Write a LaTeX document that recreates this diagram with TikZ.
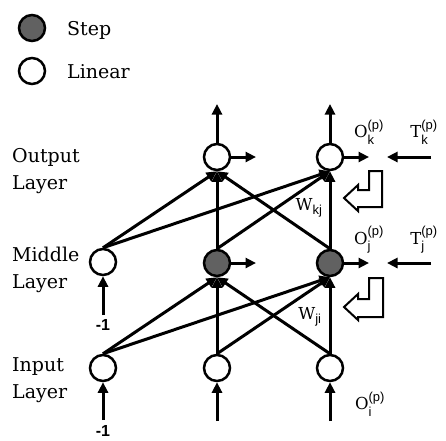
\documentclass[tikz,border=0pt]{standalone}
\usepackage{amsmath}
\usepackage{fontspec}
\setmainfont{DejaVu Serif}
\newfontfamily\biasfont{Liberation Sans}
\newcommand\subf{\biasfont\fontsize{13}{14}\selectfont}
\newcommand\symlab[3]{$\text{#1}_{\text{\subf #2}}^{\text{\subf #3}}$}
\usetikzlibrary{arrows.meta}
\begin{document}
\begin{tikzpicture}[x=1pt,y=-1pt,
  neuron/.style={circle,draw,line width=2.5pt,minimum size=26pt,inner sep=0pt},
  stepn/.style={neuron,fill=black!62},
  lin/.style={neuron,fill=white},
  conn/.style={line width=3pt,-{Triangle[length=10.5pt,width=10pt]}},
  hollow/.style={line width=2pt,draw,fill=white,line join=miter},
  lab/.style={font=\fontsize{19}{27}\selectfont,align=left,inner sep=0pt},
  sym/.style={font=\fontsize{16.5}{18}\selectfont,inner sep=0pt},
  biaslab/.style={font=\biasfont\bfseries\fontsize{16}{17}\selectfont,inner sep=0pt}]
\useasboundingbox (0,0) rectangle (446,440);

% legend
\node[stepn] (ls) at (32,28) {};
\node[lab,anchor=base west] (lst) at (67,35) {Step};
\node[lin] (ll) at (32,71) {};
\node[lab,anchor=base west] (llt) at (67,78) {Linear};

% layer labels
\node[lab,anchor=north west] (lout) at (12,148) {Output\\Layer};
\node[lab,anchor=north west] (lmid) at (12,247) {Middle\\Layer};
\node[lab,anchor=north west] (linp) at (12,357) {Input\\Layer};

% neurons
\node[lin] (o1) at (217,157) {};
\node[lin] (o2) at (330,157) {};
\node[lin] (bm) at (103,262) {};
\node[stepn] (h1) at (217,263) {};
\node[stepn] (h2) at (330,263) {};
\node[lin] (bi) at (103,368) {};
\node[lin] (i1) at (217,368) {};
\node[lin] (i2) at (330,368) {};

% input -> middle
\foreach \s in {bi,i1,i2}{
  \foreach \t in {h1,h2}{
    \draw[conn] (\s.north) -- (\t.south);
  }
}
% middle -> output
\foreach \s in {bm,h1,h2}{
  \foreach \t in {o1,o2}{
    \draw[conn] (\s.north) -- (\t.south);
  }
}

% outputs
\coordinate (o1u) at (217,104);
\coordinate (o2u) at (330,104);
\draw[conn] (o1.north) -- (o1u);
\draw[conn] (o2.north) -- (o2u);
\coordinate (o1r) at (256,157);
\coordinate (o2r) at (369,157);
\draw[conn] (o1.east) -- (o1r);
\draw[conn] (o2.east) -- (o2r);
\coordinate (h1r) at (256,263);
\coordinate (h2r) at (369,263);
\draw[conn] (h1.east) -- (h1r);
\draw[conn] (h2.east) -- (h2r);

% targets
\coordinate (tks) at (431,157);
\coordinate (tke) at (387,157);
\draw[conn] (tks) -- (tke);
\coordinate (tjs) at (431,263);
\coordinate (tje) at (387,263);
\draw[conn] (tjs) -- (tje);

% inputs
\coordinate (i1b) at (217,421);
\coordinate (i2b) at (330,421);
\draw[conn] (i1b) -- (i1.south);
\draw[conn] (i2b) -- (i2.south);

% bias
\coordinate (bmb) at (103,315);
\coordinate (bib) at (103,420);
\draw[conn] (bmb) -- (bm.south);
\draw[conn] (bib) -- (bi.south);
\node[biaslab] (bml) at (103,325) {-1};
\node[biaslab] (bil) at (103,431) {-1};

% hollow arrows
\draw[hollow] (382,171) -- (369,171) -- (369,190) -- (358,190) -- (358,185) -- (344,198) -- (358,211) -- (358,207) -- (382,207) -- cycle;
\draw[hollow] (383,278) -- (369,278) -- (369,299) -- (358,299) -- (358,294) -- (344,307) -- (358,320) -- (358,317) -- (383,317) -- cycle;

% symbols
\node[sym] (ok) at (369,132) {\symlab{O}{k}{(p)}};
\node[sym] (tk) at (424,132) {\symlab{T}{k}{(p)}};
\node[sym] (oj) at (369,240) {\symlab{O}{j}{(p)}};
\node[sym] (tj) at (424,240) {\symlab{T}{j}{(p)}};
\node[sym] (oi) at (370,404) {\symlab{O}{i}{(p)}};
\node[sym] (wkj) at (309,208) {$\text{W}_{\text{\subf kj}}$};
\node[sym] (wji) at (310,317) {$\text{W}_{\text{\subf ji}}$};
\end{tikzpicture}
\end{document}
